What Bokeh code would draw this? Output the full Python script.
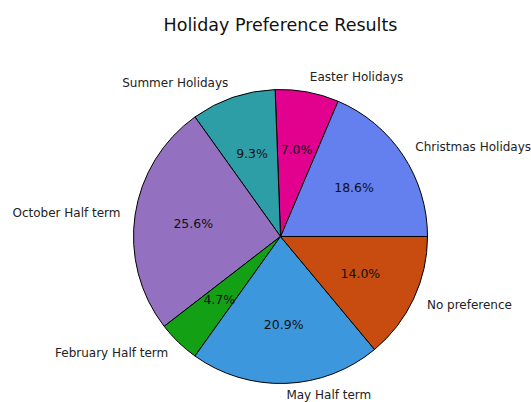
import numpy as np
from bokeh.plotting import figure
from bokeh.models import Range1d, ColumnDataSource
from bokeh.core.properties import value
from bokeh.embed import file_html
from bokeh.resources import INLINE

categories = ["Christmas Holidays", "Easter Holidays", "Summer Holidays", "October Half term",
              "February Half term", "May Half term", "No preference"]
counts = [8, 3, 4, 11, 2, 9, 6]
colors = ["#6380EE", "#E2008E", "#2E9EA6", "#9370C0", "#14A014", "#3C97DC", "#C84C10"]
title = "Holiday Preference Results"

# layout (pixels)
W, H = 531, 402
cx, cy, R = 280, 236, 147  # centre within figure frame (px)

counts_a = np.array(counts, dtype=float)
frac = counts_a / counts_a.sum()
ends = np.cumsum(frac) * 2 * np.pi
starts = ends - frac * 2 * np.pi
mids = (starts + ends) / 2

p = figure(width=W, height=H, output_backend="svg", toolbar_location=None,
           x_range=Range1d(-cx / R, (W - cx) / R), y_range=Range1d(-(H - cy) / R, cy / R),
           min_border=0)
p.axis.visible = False
p.grid.visible = False
p.outline_line_color = None

src = ColumnDataSource(dict(start=starts, end=ends, color=colors))
p.wedge(x=0, y=0, radius=1, start_angle="start", end_angle="end", fill_color="color",
        line_color="black", line_width=1, source=src)

pct = ["%.1f%%" % (f * 100) for f in frac]
p.text(x=0.6 * np.cos(mids), y=0.6 * np.sin(mids), text=pct, text_align="center",
       text_baseline="middle", text_font=value("DejaVu Sans"), text_font_size="12.5px",
       text_color="#111111")

lx = 1.1 * np.cos(mids)
ly = 1.1 * np.sin(mids)
for x, y, t in zip(lx, ly, categories):
    p.text(x=[x], y=[y], text=[t], text_align="left" if x > 0 else "right",
           text_baseline="middle", text_font=value("DejaVu Sans"), text_font_size="12px",
           text_color="#222222", y_offset=-3 if y < -1.05 else 0)

p.text(x=[0], y=[(cy - 24) / R], text=[title], text_align="center", text_baseline="middle",
       text_font=value("DejaVu Sans"), text_font_size="17.5px", text_color="#111111")

open("out.html", "w").write(file_html(p, INLINE))
